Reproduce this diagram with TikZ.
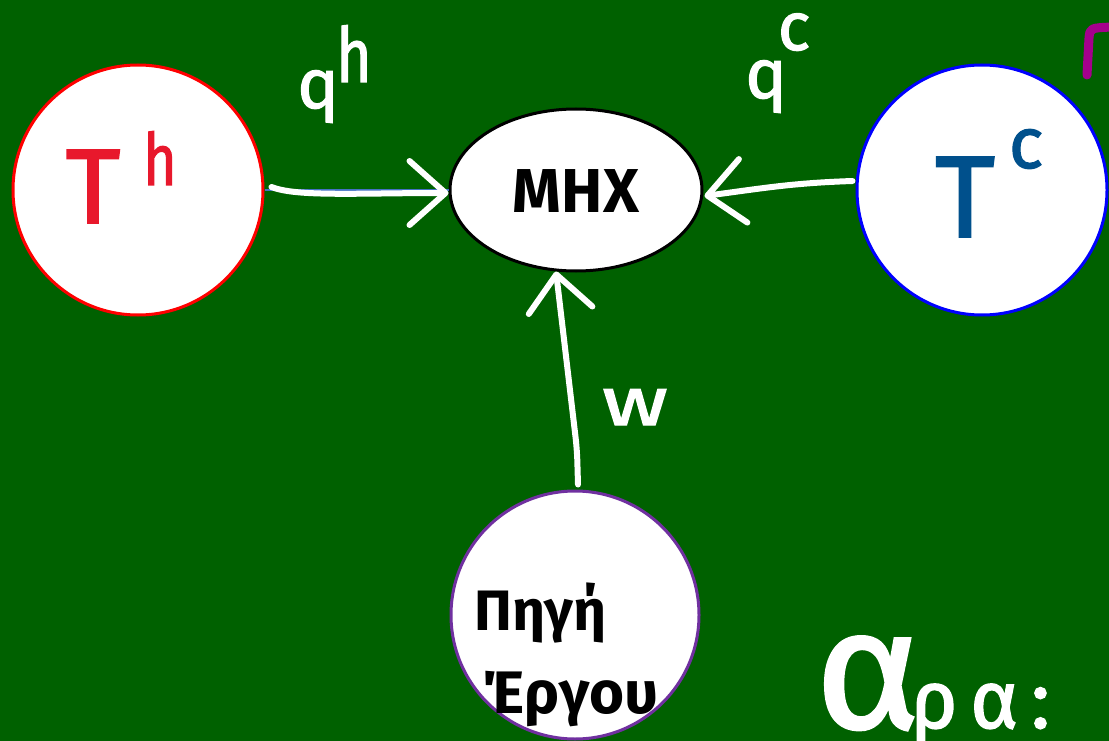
\documentclass[tikz,border=0pt]{standalone}
\usepackage{graphicx}
\usepackage{fontspec}
\setmainfont{Fira Sans}
\newfontfamily\penfont{Fira Sans}[FakeBold=1.6]
\usetikzlibrary{arrows.meta,shapes.geometric}
\definecolor{board}{RGB}{0,97,0}
\definecolor{hotink}{RGB}{232,24,44}
\definecolor{coldink}{RGB}{0,80,140}
\definecolor{workring}{RGB}{112,48,160}
\definecolor{penmagenta}{RGB}{165,0,140}
\definecolor{penblue}{RGB}{68,114,196}
% pen-weight and bold lettering at a given size
\newcommand{\fp}[1]{\fontsize{#1}{#1}\penfont}
\newcommand{\fb}[1]{\fontsize{#1}{#1}\selectfont\bfseries}
\tikzset{
  disc/.style={circle, fill=white, line width=3pt, minimum size=250pt, inner sep=0pt},
  engine/.style={ellipse, fill=white, draw=black, line width=3pt,
    minimum width=252pt, minimum height=162pt, inner sep=0pt},
  wire/.style={draw=white, line width=6pt, line cap=round, line join=round,
    -{Straight Barb[length=36pt,width=64pt,round]}},
  chalk/.style={text=white, inner sep=0pt},
  glyph/.style={inner sep=0pt, anchor=base}
}
\begin{document}
\begin{tikzpicture}[x=1pt,y=-1pt]
  % board
  \fill[board] (0,0) rectangle (1109,741);
  \useasboundingbox (0,0) rectangle (1109,741);

  % reservoirs, engine and work source
  \node[disc, draw=red] (hot) at (138,190) {};
  \node[disc, draw=blue] (cold) at (982,190) {};
  \node[engine] (mhx) at (576,190) {};
  \node[disc, draw=workring, minimum size=248pt] (src) at (575,615) {};

  % heat and work flows
  \draw[penblue, line width=2pt] (hot.east) -- (mhx.west);
  \draw[wire] ([xshift=7pt,yshift=3pt]hot.east) .. controls +(25,10) and +(-90,0) .. ([yshift=-3pt]mhx.west);
  \draw[wire] ([xshift=-3pt,yshift=9pt]cold.west) .. controls +(-60,2) and +(60,-8) .. ([xshift=1pt,yshift=-6pt]mhx.east);
  \draw[wire, rounded corners=12pt] ([xshift=3pt,yshift=5pt]src.north) -- ++(-1,-35) -- ([xshift=-20pt,yshift=1pt]mhx.south);

  % labels inside the shapes
  \node[glyph, text=hotink] (tH) at (93,223) {\fp{106}T};
  \node[glyph, text=hotink] (tHsup) at (160,185) {\fp{72}\scalebox{0.8}[1]{h}};
  \node[glyph, text=coldink] (tC) at (965,237) {\fp{116}T};
  \node[glyph, text=coldink] (tCsup) at (1026,168) {\fp{72}c};
  \node[glyph] (mhxlabel) at (576,212) {\fb{62}MHX};
  \node[glyph, anchor=base west] (srcA) at (474,630) {\fb{57}Πηγή};
  \node[glyph, anchor=base west] (srcB) at (481,713) {\fb{60}Έργου};

  % flow labels
  \node[glyph, chalk] (qh) at (318,108) {\fp{70}q};
  \node[glyph, chalk] (qhsup) at (354,82) {\fp{76}\scalebox{0.8}[1]{h}};
  \node[glyph, chalk] (qc) at (766,98) {\fp{70}q};
  \node[glyph, chalk] (qcsup) at (794,50) {\fp{68}c};
  \node[glyph, chalk] (w) at (635,425) {\fp{68}\scalebox{1.35}[1]{w}};

  % closing remark
  \node[glyph, chalk, anchor=base west] (araA) at (815,728) {\fp{170}\scalebox{1.05}[1]{α}};
  \node[glyph, chalk, anchor=base west] (araB) at (910,728) {\fp{82}ρ\hspace{12pt}α\hspace{12pt}:};

  % pen stroke at the right edge
  \draw[penmagenta, line width=9pt, line cap=round, line join=round]
    (1087,75) -- (1089,38) .. controls (1090,28) .. (1112,27);
\end{tikzpicture}
\end{document}
